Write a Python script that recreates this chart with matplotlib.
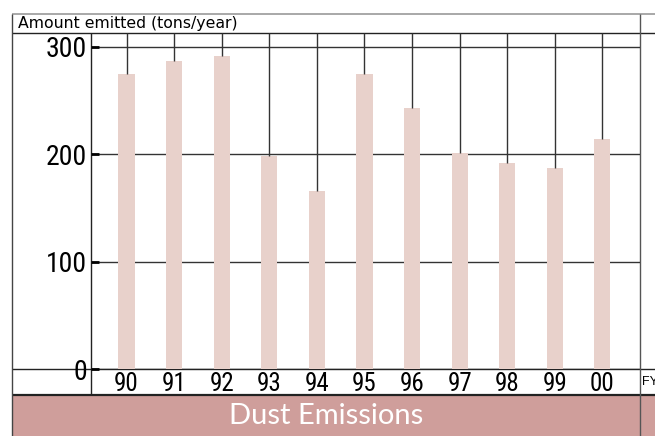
import numpy as np
import matplotlib
matplotlib.use('Agg')
from matplotlib import pyplot as plt
from matplotlib.patches import Rectangle

# data
years = ['90', '91', '92', '93', '94', '95', '96', '97', '98', '99', '00']
dust = [275, 287, 292, 198, 166, 275, 243, 201, 192, 187, 214]
yticks = [0, 100, 200, 300]

W, H = 655, 436
num_font = ['Roboto Condensed', 'Liberation Sans', 'DejaVu Sans']
bar_color = '#e8d1cb'
band_color = '#cf9e9b'


def px(x0, y0, x1, y1):
    # pixel box (top-left origin) -> figure fraction rect
    return [x0 / W, 1 - y1 / H, (x1 - x0) / W, (y1 - y0) / H]


fig = plt.figure(figsize=(W / 100, H / 100), dpi=100)

# table frame drawn in pixel coords
frame = fig.add_axes([0, 0, 1, 1])
frame.set_xlim(0, W)
frame.set_ylim(H, 0)
frame.axis('off')
frame.add_patch(Rectangle((12, 396), W - 12, 40, color=band_color, lw=0))
frame.hlines(14, 12, W, color='#999999', lw=1.2)
frame.hlines([33, 369], 12, W, color='#222222', lw=1)
frame.hlines(395, 12, W, color='#222222', lw=1.6)
frame.vlines(12, 14, H, color='#444444', lw=1)
frame.vlines(640, 14, H, color='#555555', lw=1)
frame.vlines(91, 33, 395, color='#222222', lw=1)
frame.text(18, 23.5, 'Amount emitted (tons/year)', va='center', fontsize=11.3,
           family=['DejaVu Sans'])
frame.text(326, 416, 'Dust Emissions', color='white', ha='center', va='center',
           fontsize=21, family=['Lato', 'DejaVu Sans'])
frame.text(642, 382, 'FY', fontsize=9, va='center', family=['Liberation Sans'])

# chart area
ax = fig.add_axes(px(91, 33, 640, 369))
ax.patch.set_alpha(0)
x = np.arange(len(years))
ax.bar(x, dust, width=0.34, color=bar_color, zorder=2)
ax.vlines(x, dust, 313, color='#333333', lw=1, zorder=3)
ax.set_xlim(-0.746, 10.79)
ax.set_ylim(0, 313)
ax.set_yticks(yticks)
ax.set_xticks(x)
ax.set_xticklabels(years)
ax.set_axisbelow(True)
ax.yaxis.grid(True, color='#333333', lw=1)
for s in ax.spines.values():
    s.set_visible(False)
ax.tick_params(axis='y', direction='in', length=6, width=2, pad=3, labelsize=20)
ax.tick_params(axis='x', length=0, pad=2, labelsize=18)
for lab in ax.get_xticklabels() + ax.get_yticklabels():
    lab.set_family(num_font)

fig.savefig('out.png', dpi=100)
